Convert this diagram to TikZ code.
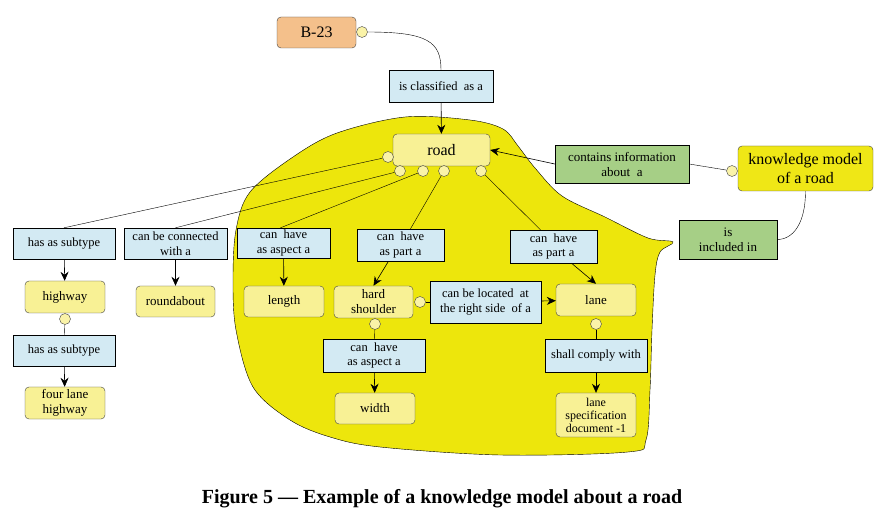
\documentclass[tikz,border=0pt]{standalone}
\usepackage{fontspec}
\setmainfont{Liberation Serif}
\usetikzlibrary{arrows.meta,positioning}
\definecolor{relBlue}{HTML}{D3EAF3}
\definecolor{conceptYellow}{HTML}{F8F195}
\definecolor{portYellow}{HTML}{FAF3A8}
\definecolor{blobYellow}{HTML}{EDE60C}
\definecolor{modelYellow}{HTML}{EFE716}
\definecolor{metaGreen}{HTML}{A6CF86}
\definecolor{codeOrange}{HTML}{F4C08B}
\definecolor{edgeGray}{HTML}{444444}

\begin{document}
\begin{tikzpicture}[
      x=1pt, y=-1pt,
      relbox/.style={rectangle, draw=black, fill=relBlue, align=center, inner sep=1pt, font=\fontsize{12.5}{14.5}\selectfont},
      concept/.style={rectangle, rounded corners=4pt, draw=edgeGray, fill=conceptYellow, align=center, inner sep=1pt, font=\fontsize{13}{15}\selectfont},
      metabox/.style={rectangle, draw=black, fill=metaGreen, align=center, inner sep=1pt, font=\fontsize{13}{15}\selectfont},
      port/.style={circle, draw=edgeGray, fill=portYellow, minimum size=11pt, inner sep=0pt},
      arrow/.style={-{Stealth[length=9pt,width=8pt]}, semithick}
    ]
      \useasboundingbox (0,0) rectangle (884,521);
      % the yellow area of the road model
      \draw[fill=blobYellow, draw=black, thin] plot[smooth cycle, tension=0.55] coordinates {
        (236,230) (250,192) (293,157) (337,133) (405,117) (470,120) (503,129)
        (518,146) (535,168) (562,196) (605,217) (648,238) (673,242) (660,252)
        (655,275) (652,330) (650,390) (646,440) (628,452) (500,455) (380,447)
        (330,437) (290,420) (253,387) (236,330) (233,280)};

      \node[concept, fill=codeOrange, minimum width=79pt, minimum height=31pt, font=\fontsize{16}{18}\selectfont] (b23) at (316.5,32.5) {B-23};
      \node[port] (pb23) at (362,32) {};
      \node[relbox, minimum width=104pt, minimum height=32pt] (classified) at (441,86) {is classified~ as a};
      \node[concept, minimum width=97pt, minimum height=32pt, font=\fontsize{16}{18}\selectfont] (road) at (441.5,150) {road};
      \node[port] (pr0) at (388,157) {};
      \node[port] (pr1) at (400,171) {};
      \node[port] (pr2) at (423,171) {};
      \node[port] (pr3) at (444,171) {};
      \node[port] (pr4) at (481,171) {};

      \node[metabox, minimum width=134pt, minimum height=38pt] (contains) at (622,164) {contains information\\about~ a};
      \node[concept, fill=modelYellow, minimum width=135pt, minimum height=45pt, font=\fontsize{16}{19}\selectfont] (kmodel) at (805.5,168.5) {knowledge model\\of a road};
      \node[port] (pkm) at (732,171) {};
      \node[metabox, minimum width=98pt, minimum height=39pt] (included) at (728,239.5) {is\\included in};

      % left column
      \node[relbox, minimum width=102pt, minimum height=31pt] (subtype1) at (64,243.5) {has as subtype};
      \node[concept, minimum width=80pt, minimum height=32pt] (highway) at (65,297) {highway};
      \node[port] (phw) at (65,319) {};
      \node[relbox, minimum width=102pt, minimum height=31pt] (subtype2) at (64,350.5) {has as subtype};
      \node[concept, minimum width=80pt, minimum height=32pt] (fourlane) at (65,403) {four lane\\highway};
      \node[relbox, minimum width=103pt, minimum height=31pt] (connected) at (175.5,243.5) {can be connected\\with a};
      \node[concept, minimum width=79pt, minimum height=31pt] (roundabout) at (175.5,301.5) {roundabout};

      % inside the road area
      \node[relbox, minimum width=93pt, minimum height=30pt] (aspect1) at (283.5,243) {can~ have\\as aspect a};
      \node[concept, minimum width=80pt, minimum height=31pt] (length) at (284,301.5) {length};
      \node[relbox, minimum width=87pt, minimum height=32pt] (part1) at (400.5,245) {can~ have\\as part a};
      \node[concept, minimum width=79pt, minimum height=32pt] (shoulder) at (373.5,302) {hard\\shoulder};
      \node[port] (psh1) at (420,302) {};
      \node[port] (psh2) at (375,324) {};
      \node[relbox, minimum width=111pt, minimum height=42pt] (located) at (485.5,302) {can be located~ at\\the right side~ of a};
      \node[relbox, minimum width=87pt, minimum height=33pt] (part2) at (553.5,246.5) {can~ have\\as part a};
      \node[concept, minimum width=80pt, minimum height=32pt] (lane) at (596,300) {lane};
      \node[port] (pln) at (596,324) {};
      \node[relbox, minimum width=102pt, minimum height=33pt] (aspect2) at (374,355.5) {can~ have\\as aspect a};
      \node[concept, minimum width=80pt, minimum height=31pt] (width) at (375,408.5) {width};
      \node[relbox, minimum width=102pt, minimum height=33pt] (comply) at (596,355.5) {shall comply with};
      \node[concept, minimum width=80pt, minimum height=44pt, font=\fontsize{12}{13}\selectfont] (lanespec) at (596,415) {lane\\specification\\document -1};

      \draw (pb23.east) .. controls +(60,0) and +(0,-28) .. (classified.north);
      \draw[arrow] (classified) -- (road);
      \draw[arrow] (contains.west) -- (road.east);
      \draw (contains.east) -- (pkm);
      \draw (kmodel.south) .. controls +(0,32) and +(16,0) .. (included.east);

      \draw (pr0) -- (subtype1.north);
      \draw (pr1) -- (connected.north);
      \draw (pr2) -- ([xshift=-3pt]aspect1.north);
      \draw (pr3) -- ([xshift=10pt]part1.north);
      \draw (pr4) -- ([xshift=-13pt]part2.north);

      \draw[arrow] (subtype1) -- (highway);
      \draw (phw) -- (subtype2);
      \draw[arrow] (subtype2) -- (fourlane);
      \draw[arrow] (connected) -- (roundabout);
      \draw[arrow] (aspect1) -- (length);
      \draw[arrow] ([xshift=-12pt]part1.south) -- (shoulder.north);
      \draw (psh1) -- (located);
      \draw[arrow] (located) -- (lane);
      \draw[arrow] ([xshift=18pt]part2.south) -- (lane.north);
      \draw (psh2) -- (aspect2);
      \draw[arrow] (aspect2) -- (width);
      \draw (pln) -- (comply);
      \draw[arrow] (comply) -- (lanespec);

      \node[font=\fontsize{20}{23}\selectfont\bfseries] (caption) at (442,499) {Figure 5 — Example of a knowledge model about a road};
    \end{tikzpicture}
\end{document}
